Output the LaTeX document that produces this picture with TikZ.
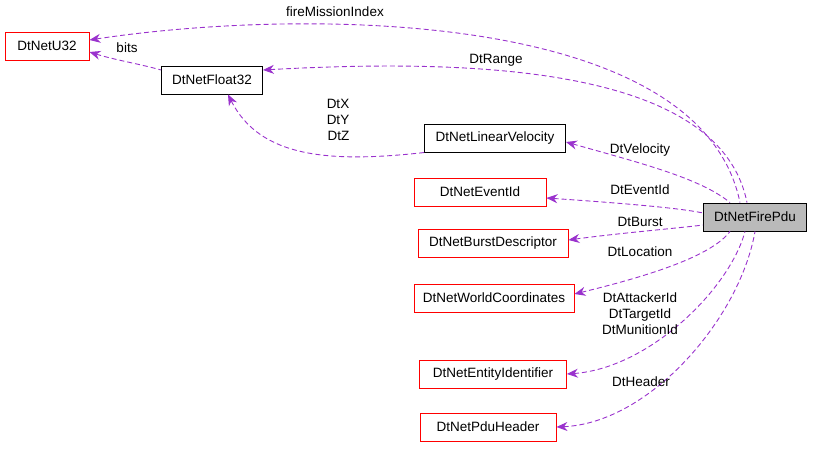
\documentclass[tikz,border=0pt]{standalone}
\usepackage{fontspec}
\setmainfont{Liberation Sans}
\usetikzlibrary{arrows.meta}
\definecolor{edgepurple}{HTML}{9A32CD}
\tikzset{
  cls/.style={draw=red, rectangle, line width=0.9pt, minimum height=28pt, inner sep=4pt, font=\fontsize{13.5}{16}\selectfont},
  clsdoc/.style={cls, draw=black},
  rel/.style={draw=edgepurple, line width=0.9pt, dash pattern=on 5pt off 3pt, {Stealth[length=11pt,width=9pt]}-},
  lab/.style={font=\fontsize{13.5}{16}\selectfont, align=center, inner sep=0pt}
}
\begin{document}
\begin{tikzpicture}[x=1pt,y=1pt]
  \useasboundingbox (0,0) rectangle (813,448);
  % classes
  \node[cls, minimum width=84pt] (u32) at (47,402) {DtNetU32};
  \node[clsdoc, minimum width=101pt] (float) at (212,368) {DtNetFloat32};
  \node[clsdoc, minimum width=141pt] (vel) at (495,310) {DtNetLinearVelocity};
  \node[cls, minimum width=132pt] (event) at (480,256) {DtNetEventId};
  \node[clsdoc, fill=black!27, minimum width=103pt] (fire) at (755,231) {DtNetFirePdu};
  \node[cls, minimum width=150pt] (burst) at (493,205) {DtNetBurstDescriptor};
  \node[cls, minimum width=160pt] (world) at (494,150) {DtNetWorldCoordinates};
  \node[cls, minimum width=147pt] (entity) at (493,74) {DtNetEntityIdentifier};
  \node[cls, minimum width=136pt] (header) at (488,21) {DtNetPduHeader};
  % relations
  \draw[rel] (u32.east) ++(0,6) .. controls (300,440) and (700,440) .. ([xshift=-15pt]fire.north);
  \draw[rel] ([yshift=-6pt]u32.east) .. controls (115,388) and (140,384) .. ([yshift=10pt]float.west);
  \draw[rel] ([yshift=10pt]float.east) .. controls (480,390) and (720,380) .. ([xshift=-8pt]fire.north);
  \draw[rel] ([xshift=16pt]float.south) .. controls (260,290) and (330,285) .. ([xshift=-70pt]vel.south);
  \draw[rel] ([yshift=-4pt]vel.east) .. controls (640,285) and (700,270) .. ([xshift=-25pt]fire.north);
  \draw[rel] ([yshift=-6pt]event.east) .. controls (620,245) and (680,240) .. ([yshift=4pt]fire.west);
  \draw[rel] ([yshift=3pt]burst.east) .. controls (620,215) and (680,220) .. ([yshift=-8pt]fire.west);
  \draw[rel] ([yshift=4pt]world.east) .. controls (640,170) and (710,190) .. ([xshift=-25pt]fire.south);
  \draw[rel] (entity.east) .. controls (650,80) and (730,160) .. ([xshift=-10pt]fire.south);
  \draw[rel] (header.east) .. controls (650,25) and (740,130) .. (fire.south);
  % labels
  \node[lab] (lmission) at (335,436) {fireMissionIndex};
  \node[lab] (lbits) at (127,400) {bits};
  \node[lab] (lrange) at (496,388) {DtRange};
  \node[lab, align=right] (lxyz) at (338,328) {DtX\\DtY\\DtZ};
  \node[lab] (lvel) at (640,298) {DtVelocity};
  \node[lab] (levent) at (640,258) {DtEventId};
  \node[lab] (lburst) at (640,226) {DtBurst};
  \node[lab] (lloc) at (640,196) {DtLocation};
  \node[lab] (lattack) at (640,134) {DtAttackerId\\DtTargetId\\DtMunitionId};
  \node[lab] (lhead) at (641,66) {DtHeader};
\end{tikzpicture}
\end{document}
